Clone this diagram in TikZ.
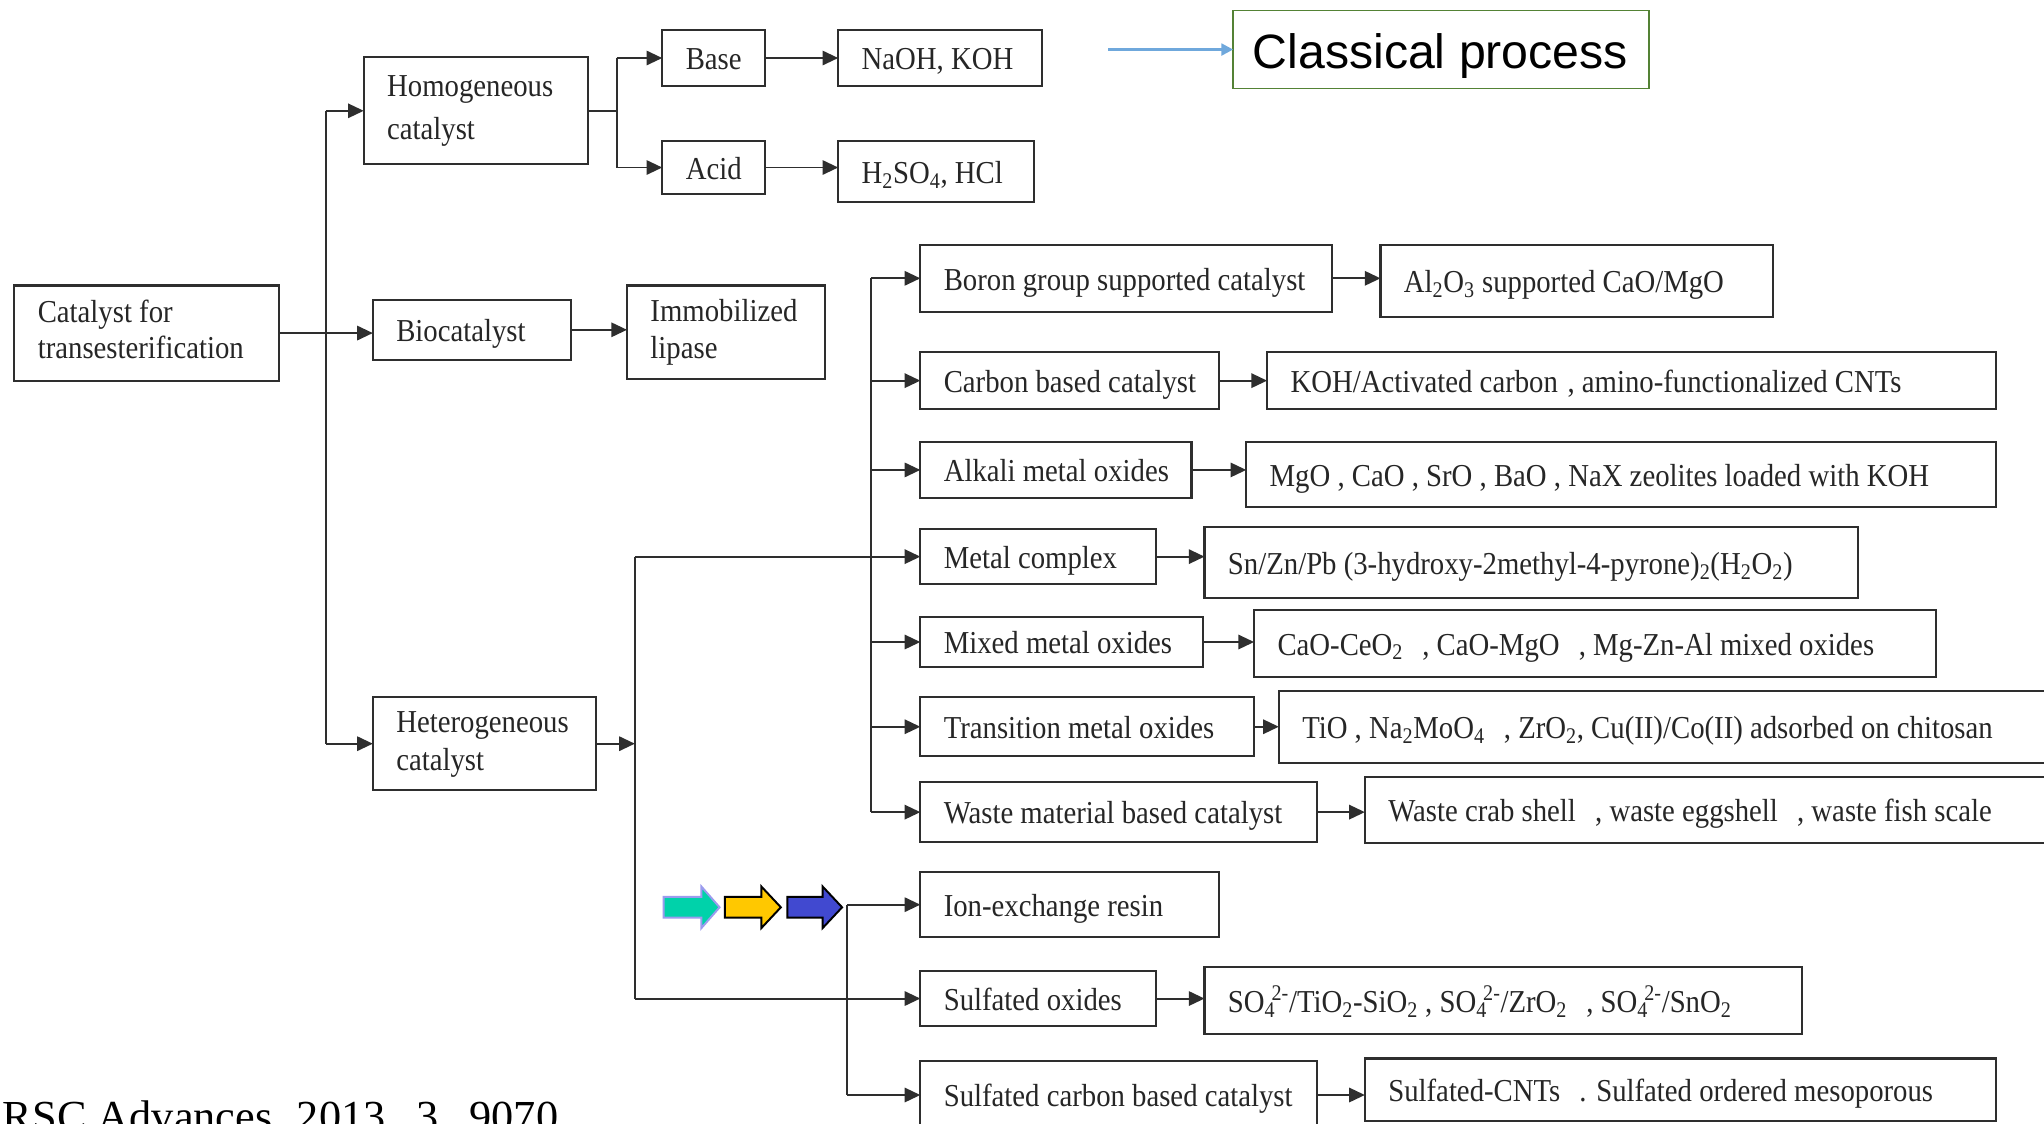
\documentclass[tikz,border=0pt]{standalone}
\usepackage{fontspec}
\setmainfont{Liberation Serif}[FakeStretch=0.9]
\newfontfamily\arialf{Liberation Sans}
\newfontfamily\timesf{Liberation Serif}
\usetikzlibrary{arrows.meta}
\definecolor{ln}{HTML}{2E2E2E}
\definecolor{txt}{HTML}{262626}
\definecolor{cpgreen}{HTML}{548235}
\definecolor{cpblue}{HTML}{6FA8DC}
\definecolor{arTeal}{HTML}{00D2AA}
\definecolor{arTealB}{HTML}{9B9BEE}
\definecolor{arYel}{HTML}{FFC800}
\definecolor{arBlue}{HTML}{4149D0}
\newcommand\mainfs{\fontsize{24.5}{29}\selectfont}
\tikzset{
  box/.style={draw=ln, line width=1.6pt, inner xsep=0pt, inner ysep=0pt, outer sep=0pt, text=txt, font=\mainfs},
  sl/.style={text height=20pt, text depth=2pt},
  ml/.style={},
  conn/.style={draw=ln, line width=1.5pt},
  arr/.style={conn, -{Triangle[length=12pt,width=11pt]}},
}
% [style], name, x1, y1, x2, y2, text
\newcommand\bx[7][sl]{\node[box, #1, minimum height={#6-#4}, anchor=north west] (#2) at (#3,#4)
  {\makebox[\dimexpr #5pt-#3pt\relax][l]{\hspace*{18pt}#7}};}
\newcommand\bxc[6]{\node[box, sl, minimum height={#5-#3}, anchor=north west] (#1) at (#2,#3)
  {\makebox[\dimexpr #4pt-#2pt\relax][c]{#6}};}
\newcommand\sofour{SO\textsubscript{4}\kern-0.12em\textsuperscript{2-}}
\newcommand\blockarr[5]{\filldraw[fill=#4, draw=#5, line width=1.5pt, line join=miter]
  (#1,688) -- (#2,688) -- (#2,680) -- (#3,696) -- (#2,712) -- (#2,704) -- (#1,704) -- cycle;}
\begin{document}
\begin{tikzpicture}[x=1pt,y=-1pt]
\useasboundingbox (0,0) rectangle (1568,862);
\fill[white] (0,0) rectangle (1568,862);

% left part
\bx[ml]{cat}{11}{219}{214}{292}{\begin{tabular}{@{}l@{}}Catalyst for\\[-1pt]transesterification\end{tabular}}
\bx[ml]{homo}{279}{44}{451}{126}{\begin{tabular}{@{}l@{}}Homogeneous\\[4pt]catalyst\end{tabular}}
\bxc{base}{508}{23}{587}{66}{Base}
\bxc{acid}{508}{108}{587}{149}{Acid}
\bx{naoh}{643}{23}{799}{66}{NaOH, KOH}
\bx{hso}{643}{108}{793}{155}{H\textsubscript{2}SO\textsubscript{4}, HCl}
\bx{bio}{286}{230}{438}{276}{Biocatalyst}
\bx[ml]{imm}{481}{219}{633}{291}{\begin{tabular}{@{}l@{}}Immobilized\\lipase\end{tabular}}
\bx[ml]{het}{286}{535}{457}{606}{\begin{tabular}{@{}l@{}}Heterogeneous\\catalyst\end{tabular}}

% heterogeneous sub-classes
\bx{boron}{706}{188}{1022}{239}{Boron group supported catalyst}
\bx{carbon}{706}{270}{935}{314}{Carbon based catalyst}
\bx{alkali}{706}{339}{914}{382}{Alkali metal oxides}
\bx{mc}{706}{406}{887}{448}{Metal complex}
\bx{mixed}{706}{473}{923}{512}{Mixed metal oxides}
\bx{trans}{706}{535}{962}{580}{Transition metal oxides}
\bx{waste}{706}{600}{1010}{646}{Waste material based catalyst}
\bx{ion}{706}{669}{935}{719}{Ion-exchange resin}
\bx{so}{706}{745}{887}{787}{Sulfated oxides}
\bx{sc}{706}{814}{1010}{866}{Sulfated carbon based catalyst}

% examples
\bx{alo}{1059}{188}{1360}{243}{Al\textsubscript{2}O\textsubscript{3} supported CaO/MgO}
\bx{koh}{972}{270}{1531}{314}{KOH/Activated carbon\hspace{0.3em}, amino-functionalized CNTs}
\bx{mgo}{956}{339}{1531}{389}{MgO , CaO , SrO , BaO , NaX zeolites loaded with KOH}
\bx{sn}{924}{404}{1425}{459}{Sn/Zn/Pb (3-hydroxy-2methyl-4-pyrone)\textsubscript{2}(H\textsubscript{2}O\textsubscript{2})}
\bx{cao}{962}{468}{1485}{519}{CaO-CeO\textsubscript{2}\hspace{0.6em}, CaO-MgO\hspace{0.6em}, Mg-Zn-Al mixed oxides}
\bx{tio}{981}{530}{1580}{585}{TiO , Na\textsubscript{2}MoO\textsubscript{4}\hspace{0.6em}, ZrO\textsubscript{2}, Cu(II)/Co(II) adsorbed on chitosan}
\bx{wcs}{1047}{596}{1580}{647}{Waste crab shell\hspace{0.6em}, waste eggshell\hspace{0.6em}, waste fish scale}
\bx{sofx}{924}{742}{1382}{793}{\sofour/TiO\textsubscript{2}-SiO\textsubscript{2} , \sofour/ZrO\textsubscript{2}\hspace{0.6em}, \sofour/SnO\textsubscript{2}}
\bx{scnt}{1047}{812}{1531}{860}{Sulfated-CNTs\hspace{0.6em}. Sulfated ordered mesoporous}

% connectors: root
\coordinate (v1) at (250,0);
\draw[arr] (cat.east) -- (cat.east -| bio.west);
\draw[conn] (v1 |- homo.west) -- (v1 |- het.west);
\draw[arr] (v1 |- homo.west) -- (homo.west);
\draw[arr] (v1 |- het.west) -- (het.west);

% homogeneous
\coordinate (v2) at (473,0);
\draw[conn] (homo.east) -- (homo.east -| v2);
\draw[conn] (v2 |- base.west) -- (v2 |- acid.west);
\draw[arr] (v2 |- base.west) -- (base.west);
\draw[arr] (v2 |- acid.west) -- (acid.west);
\draw[arr] (base.east) -- (base.east -| naoh.west);
\draw[arr] (acid.east) -- (acid.east -| hso.west);
\draw[arr] (bio.east) -- (bio.east -| imm.west);

% heterogeneous
\coordinate (v3) at (487,0);
\draw[arr] (het.east) -- (het.east -| v3);
\draw[conn] (v3 |- mc.west) -- (v3 |- so.west);
\draw[arr] (v3 |- mc.west) -- (mc.west);
\draw[arr] (v3 |- so.west) -- (so.west);

\coordinate (v4) at (668,0);
\draw[conn] (v4 |- boron.west) -- (v4 |- waste.west);
\foreach \n in {boron,carbon,alkali,mixed,trans,waste}
  \draw[arr] (v4 |- \n.west) -- (\n.west);

\coordinate (v5) at (650,0);
\draw[conn] (v5 |- ion.west) -- (v5 |- sc.west);
\draw[arr] (v5 |- ion.west) -- (ion.west);
\draw[arr] (v5 |- sc.west) -- (sc.west);

% to examples
\draw[arr] (boron.east) -- (boron.east -| alo.west);
\draw[arr] (carbon.east) -- (carbon.east -| koh.west);
\draw[arr] (alkali.east) -- (alkali.east -| mgo.west);
\draw[arr] (mc.east) -- (mc.east -| sn.west);
\draw[arr] (mixed.east) -- (mixed.east -| cao.west);
\draw[arr] (trans.east) -- (trans.east -| tio.west);
\draw[arr] (waste.east) -- (waste.east -| wcs.west);
\draw[arr] (so.east) -- (so.east -| sofx.west);
\draw[arr] (sc.east) -- (sc.east -| scnt.west);

% coloured block arrows
\blockarr{509}{538}{552}{arTeal}{arTealB}
\blockarr{556}{584}{599}{arYel}{black}
\blockarr{604}{631}{646}{arBlue}{black}

% classical process
\node[draw=cpgreen, line width=1.3pt, inner sep=0pt, outer sep=0pt, minimum height=60, anchor=north west,
      text height=30pt, text depth=1pt,
      font=\arialf\fontsize{37}{40}\selectfont, text=black] (cp) at (946,8)
  {\makebox[319pt][l]{\hspace*{15pt}Classical process}};
\coordinate (cpstart) at (850,38);
\draw[cpblue, line width=2pt, -{Triangle[length=9pt,width=9pt]}] (cpstart) -- (cp.west);

% source
\node[anchor=base west, inner sep=0pt, font=\timesf\fontsize{34}{40}\selectfont, text=black] (rsc) at (2,868)
  {RSC Advances,\hspace{0.3em}2013,\hspace{0.45em}3,\hspace{0.45em}9070};
\end{tikzpicture}
\end{document}
